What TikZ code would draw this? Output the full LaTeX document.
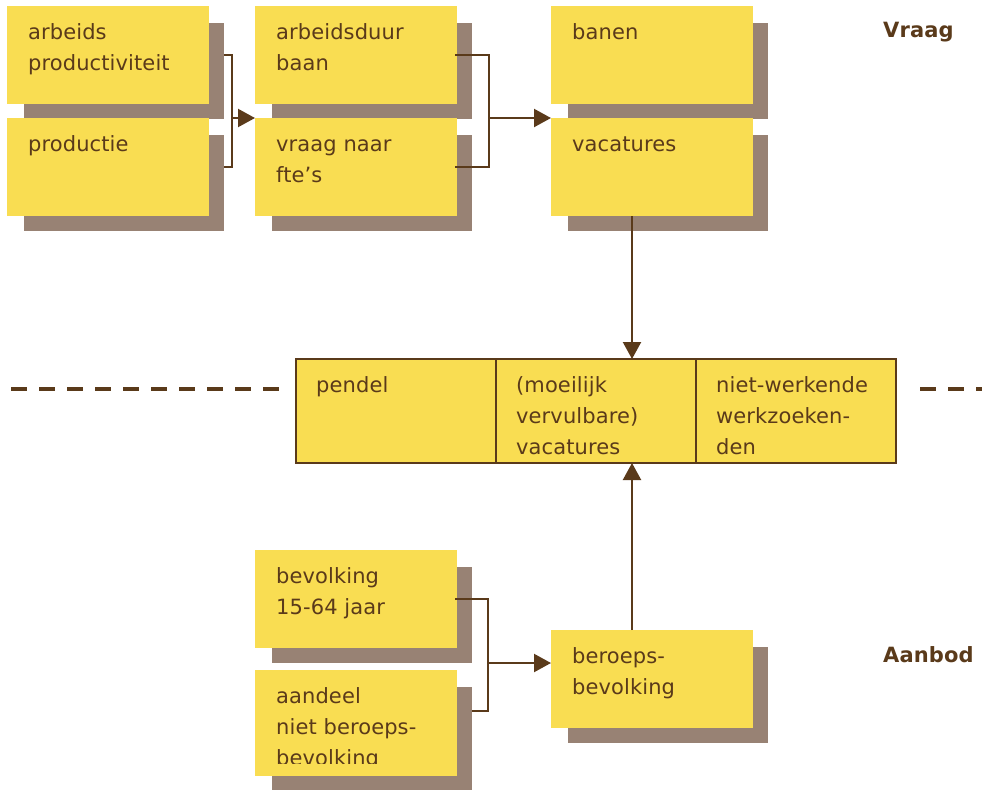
\documentclass[tikz,border=0pt]{standalone}
\usepackage{fontspec}
\setmainfont[LetterSpace=0.5]{DejaVu Sans}
\usetikzlibrary{arrows.meta,calc}
\definecolor{yel}{RGB}{249,221,82}
\definecolor{shad}{RGB}{152,130,116}
\definecolor{brn}{RGB}{90,58,26}
\newcommand\ybox[5]{% name, x, y, height, text
  \fill[shad] (#2+17,#3+17) rectangle (#2+217,#3+#4+15);
  \node[yboxst, minimum height=#4pt] (#1) at (#2,#3) {};
  \node[lbl] (#1-t) at (#2+21,#3+33) {\parbox[t]{180pt}{#5}};
}
\begin{document}
\begin{tikzpicture}[x=1pt,y=-1pt,
  yboxst/.style={fill=yel, anchor=north west, minimum width=202pt, inner sep=0pt, outer sep=0pt},
  lbl/.style={anchor=base west, inner sep=0pt, text=brn, font=\fontsize{21}{31}\selectfont},
  cell/.style={fill=yel, draw=brn, line width=2.5pt, anchor=north west, minimum width=200pt, minimum height=104pt, inner sep=0pt, outer sep=0pt},
  conn/.style={draw=brn, line width=2.2pt},
  arr/.style={conn, -{Triangle[length=17pt,width=18pt]}},
  dashline/.style={draw=brn, line width=4pt, dash pattern=on 16pt off 12pt},
  side/.style={anchor=base west, inner sep=0pt, text=brn, font=\fontsize{21}{24}\selectfont\bfseries}]
\useasboundingbox (0,0) rectangle (982,790);
% column 1 bracket (under shadows)
\coordinate (j1) at (232,118);
\draw[conn] (224,55) -| (j1) |- (224,167);
% column 1
\ybox{ap}{7}{6}{98}{arbeids\\productiviteit}
\ybox{pr}{7}{118}{98}{productie}
% column 2
\ybox{ad}{255}{6}{98}{arbeidsduur\\baan}
\ybox{vf}{255}{118}{98}{vraag naar\\fte’s}
% column 3
\ybox{ba}{551}{6}{98}{banen}
\ybox{va}{551}{118}{98}{vacatures}
% connectors top
\draw[arr] (j1) -- (vf.north west);
\coordinate (j2) at (489,118);
\draw[conn] ([xshift=-2pt]ad.east) -| (j2) |- ([xshift=-2pt]vf.east);
\draw[arr] (j2) -- (va.north west);
% middle
\node[cell] (m1) at (296,359) {};
\node[cell] (m2) at (496,359) {};
\node[cell] (m3) at (696,359) {};
\node[lbl] (m1-t) at (316,392) {\parbox[t]{170pt}{pendel}};
\node[lbl] (m2-t) at (516,392) {\parbox[t]{170pt}{(moeilijk\\vervulbare)\\vacatures}};
\node[lbl] (m3-t) at (716,392) {\parbox[t]{170pt}{niet-werkende\\werkzoeken-\\den}};
\draw[arr] ([xshift=-20pt]va.south) -- ([xshift=-20pt]va.south |- m2.north);
% dashed lines
\coordinate (dl1) at (11,389); \coordinate (dl2) at (280,389);
\coordinate (dr1) at (920,389); \coordinate (dr2) at (995,389);
\draw[dashline] (dl1) -- (dl2);
\draw[dashline] (dr1) -- (dr2);
% bottom
\ybox{bv}{255}{550}{98}{bevolking\\15-64 jaar}
\fill[shad] (272,687) rectangle (472,790);
\node[yboxst, minimum height=106pt] (an) at (255,670) {};
\begin{scope}
\clip (255,670) rectangle (457,763);
\node[lbl] (an-t) at (276,703) {\parbox[t]{180pt}{aandeel\\niet beroeps-\\bevolking}};
\end{scope}
\ybox{bb}{551}{630}{98}{beroeps-\\bevolking}
\coordinate (j3) at (488,663);
\draw[conn] ([xshift=-2pt]bv.east) -| (j3) |- (472,711);
\draw[arr] (j3) -- ([yshift=-33pt]bb.north west);
\draw[arr] ([xshift=-20pt]bb.north) -- ([xshift=-20pt]bb.north |- m2.south);
% side labels
\node[side] (vraag) at (883,37) {Vraag};
\node[side] (aanbod) at (883,662) {Aanbod};
\end{tikzpicture}
\end{document}
